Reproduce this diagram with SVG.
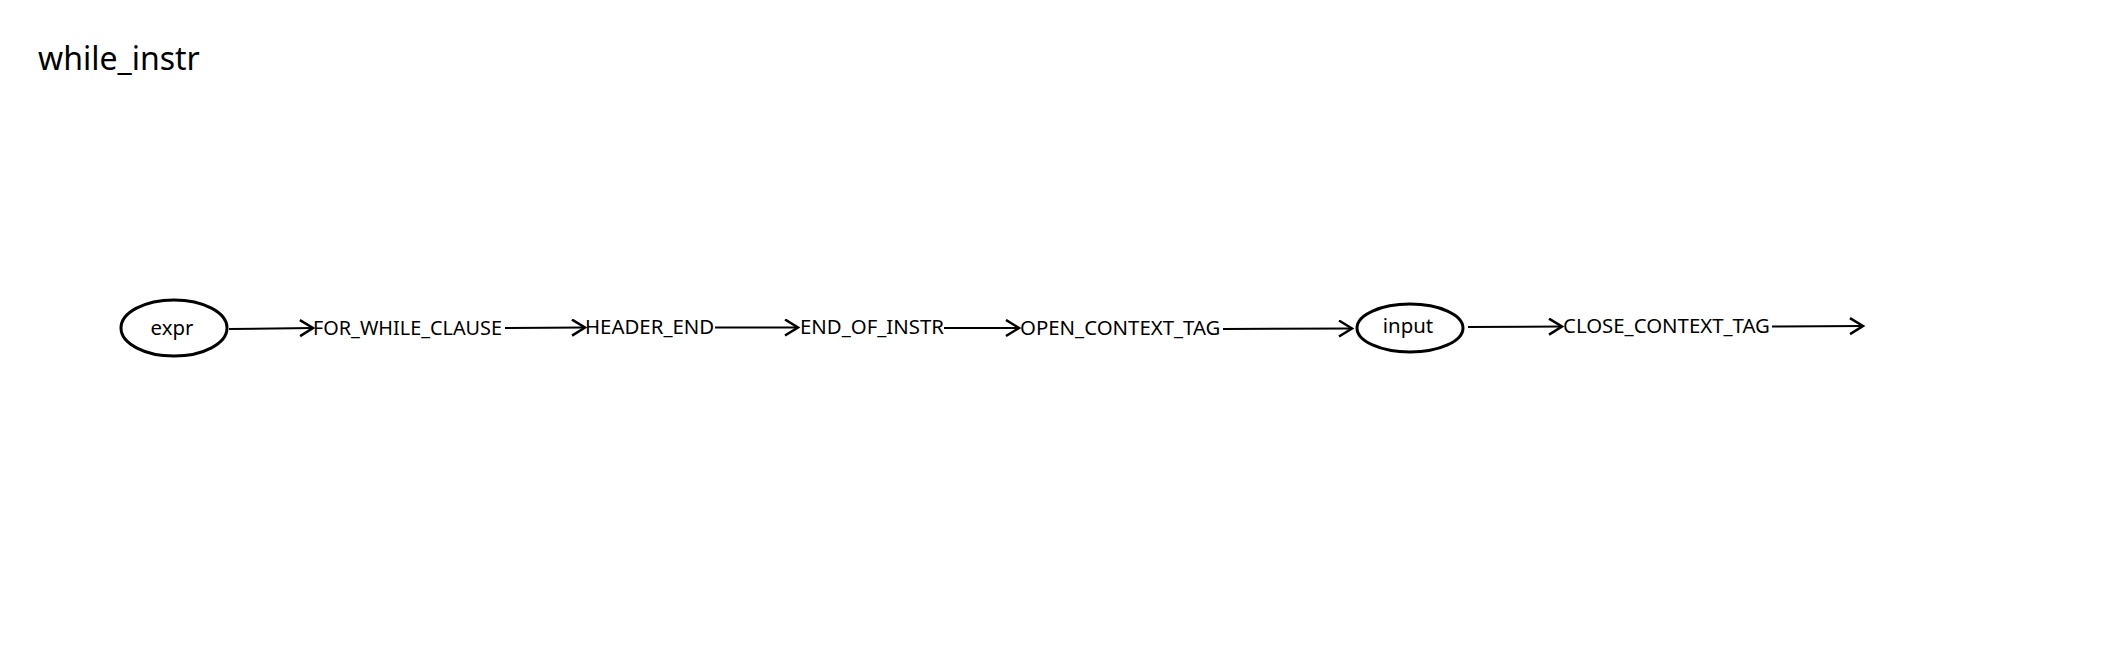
<svg xmlns="http://www.w3.org/2000/svg" width="2108" height="672" viewBox="0 0 2108 672">
<style>
text{font-family:"Noto Sans","Open Sans",sans-serif;fill:#000}
.t{font-size:20.4px}
.title{font-size:32px}
.n{fill:#fff;stroke:#000;stroke-width:3}
.e{stroke:#000;stroke-width:2;fill:none;marker-end:url(#ah)}
</style>
<defs>
<marker id="ah" markerUnits="userSpaceOnUse" markerWidth="20" markerHeight="20" refX="15" refY="9" orient="auto">
<path d="M2,1 L15,9 L2,17" fill="none" stroke="#000" stroke-width="2.5"/>
</marker>
</defs>
<rect width="2108" height="672" fill="#fff"/>
<text class="title" x="38" y="70">while_instr</text>
<g id="connectors">
<line class="e" x1="229" y1="329" x2="313" y2="328"/>
<line class="e" x1="505" y1="328" x2="585" y2="327.5"/>
<line class="e" x1="715" y1="327.5" x2="798" y2="327.5"/>
<line class="e" x1="944" y1="328" x2="1019" y2="328"/>
<line class="e" x1="1223" y1="329" x2="1352" y2="328.5"/>
<line class="e" x1="1468" y1="327" x2="1562" y2="326.5"/>
<line class="e" x1="1772" y1="326.5" x2="1863" y2="326"/>
</g>
<g id="expr"><ellipse class="n" cx="174" cy="328" rx="53" ry="28"/><text class="t" x="172" y="335" text-anchor="middle">expr</text></g>
<g id="FOR_WHILE_CLAUSE"><text class="t" x="313" y="335" textLength="189" lengthAdjust="spacingAndGlyphs">FOR_WHILE_CLAUSE</text></g>
<g id="HEADER_END"><text class="t" x="585" y="334">HEADER_END</text></g>
<g id="END_OF_INSTR"><text class="t" x="800" y="334">END_OF_INSTR</text></g>
<g id="OPEN_CONTEXT_TAG"><text class="t" x="1020" y="335">OPEN_CONTEXT_TAG</text></g>
<g id="input"><ellipse class="n" cx="1410" cy="328" rx="53" ry="24"/><text class="t" x="1408" y="333" text-anchor="middle">input</text></g>
<g id="CLOSE_CONTEXT_TAG"><text class="t" x="1563" y="333">CLOSE_CONTEXT_TAG</text></g>
</svg>
